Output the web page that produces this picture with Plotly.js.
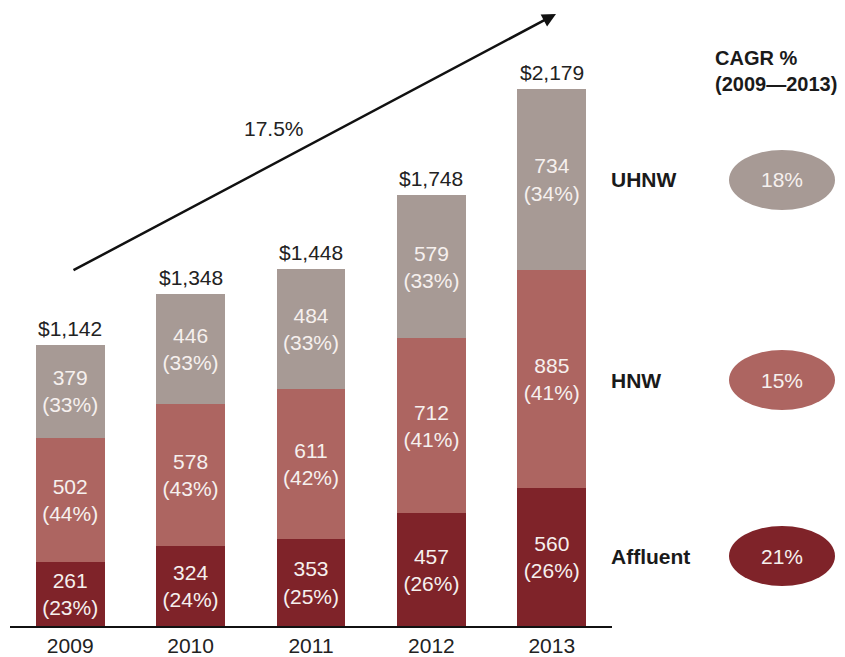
<!DOCTYPE html>
<html>
<head>
<meta charset="utf-8">
<script src="https://cdn.plot.ly/plotly-3.0.1.min.js"></script>
<style>html,body{margin:0;padding:0;background:#fff;}#chart{width:845px;height:657px;}</style>
</head>
<body>
<div id="chart"></div>
<script>
const years = ['2009', '2010', '2011', '2012', '2013'];
const affluent = [261, 324, 353, 457, 560];
const hnw = [502, 578, 611, 712, 885];
const uhnw = [379, 446, 484, 579, 734];
const affluentPct = [23, 24, 25, 26, 26];
const hnwPct = [44, 43, 42, 41, 41];
const uhnwPct = [33, 33, 33, 33, 34];
const totals = [1142, 1348, 1448, 1748, 2179];
const segments = ['Affluent', 'HNW', 'UHNW'];
const cagr = ['21%', '15%', '18%'];
const overallCagr = '17.5%';

const colors = {Affluent: '#7f2329', HNW: '#ad6561', UHNW: '#a79a95'};
const fontFam = 'Liberation Sans, Arial, Helvetica, sans-serif';

// layout helpers: pixel -> paper
const L = 10, R = 233, T = 0, B = 31, W = 845, H = 657;
const pw = W - L - R, ph = H - T - B;
const px = x => (x - L) / pw;
const py = y => 1 - (y - T) / ph;

function mk(name, vals, pcts) {
  return {
    type: 'bar', name: name, x: years, y: vals,
    text: vals.map((v, i) => v + '<br>(' + pcts[i] + '%)'),
    textposition: 'inside', insidetextanchor: 'middle', textangle: 0,
    constraintext: 'none',
    textfont: {family: fontFam, size: 21, color: '#f6f0ee'},
    marker: {color: colors[name], line: {width: 0}},
    hoverinfo: 'none'
  };
}
const data = [
  mk('Affluent', affluent, affluentPct),
  mk('HNW', hnw, hnwPct),
  mk('UHNW', uhnw, uhnwPct)
];

const annotations = [];
years.forEach((y, i) => {
  annotations.push({
    x: i, y: totals[i], xref: 'x', yref: 'y', text: '$' + totals[i].toLocaleString('en-US'),
    showarrow: false, xanchor: 'center', yanchor: 'bottom', yshift: 3,
    font: {family: fontFam, size: 21, color: '#222'}
  });
});
// growth arrow
annotations.push({
  xref: 'paper', yref: 'paper', x: px(556), y: py(14), axref: 'pixel', ayref: 'pixel',
  ax: -484, ay: 257, text: '', showarrow: true, arrowhead: 2, arrowsize: 1.1, arrowwidth: 2.5,
  arrowcolor: '#111', standoff: 0
});
annotations.push({
  xref: 'paper', yref: 'paper', x: px(274), y: py(128), xanchor: 'center', yanchor: 'middle',
  text: overallCagr, showarrow: false,
  font: {family: fontFam, size: 21, color: '#222'}
});
// CAGR header
annotations.push({
  xref: 'paper', yref: 'paper', x: px(713), y: py(71), xanchor: 'left', yanchor: 'middle', align: 'left',
  text: '<b>CAGR %</b><br><b>(2009\u20142013)</b>', showarrow: false,
  font: {family: fontFam, size: 20, color: '#1a1a1a'}
});
const labelY = {UHNW: 180, HNW: 380, Affluent: 556};
const shapes = [];
segments.forEach((s, i) => {
  const cy = labelY[s];
  annotations.push({
    xref: 'paper', yref: 'paper', x: px(609), y: py(cy), xanchor: 'left', yanchor: 'middle',
    text: '<b>' + s + '</b>', showarrow: false,
    font: {family: fontFam, size: 21, color: '#1a1a1a'}
  });
  shapes.push({
    type: 'circle', xref: 'paper', yref: 'paper',
    x0: px(729), x1: px(835), y0: py(cy - 30), y1: py(cy + 30),
    fillcolor: colors[s], line: {width: 0}
  });
  annotations.push({
    xref: 'paper', yref: 'paper', x: px(782), y: py(cy), xanchor: 'center', yanchor: 'middle',
    text: cagr[i], showarrow: false,
    font: {family: fontFam, size: 21, color: '#f6f0ee'}
  });
});

const layout = {
  width: W, height: H,
  margin: {l: L, r: R, t: T, b: B},
  barmode: 'stack', bargap: 0.427,
  showlegend: false,
  paper_bgcolor: '#fff', plot_bgcolor: '#fff',
  xaxis: {
    type: 'category', range: [-0.5, 4.5], showgrid: false, zeroline: false,
    showline: true, linecolor: '#111', linewidth: 2, ticks: '',
    tickfont: {family: fontFam, size: 21, color: '#222'}, fixedrange: true
  },
  yaxis: {range: [0, 2541], visible: false, showgrid: false, zeroline: false, fixedrange: true},
  annotations: annotations,
  shapes: shapes
};
Plotly.newPlot('chart', data, layout, {staticPlot: true});
</script>
</body>
</html>
